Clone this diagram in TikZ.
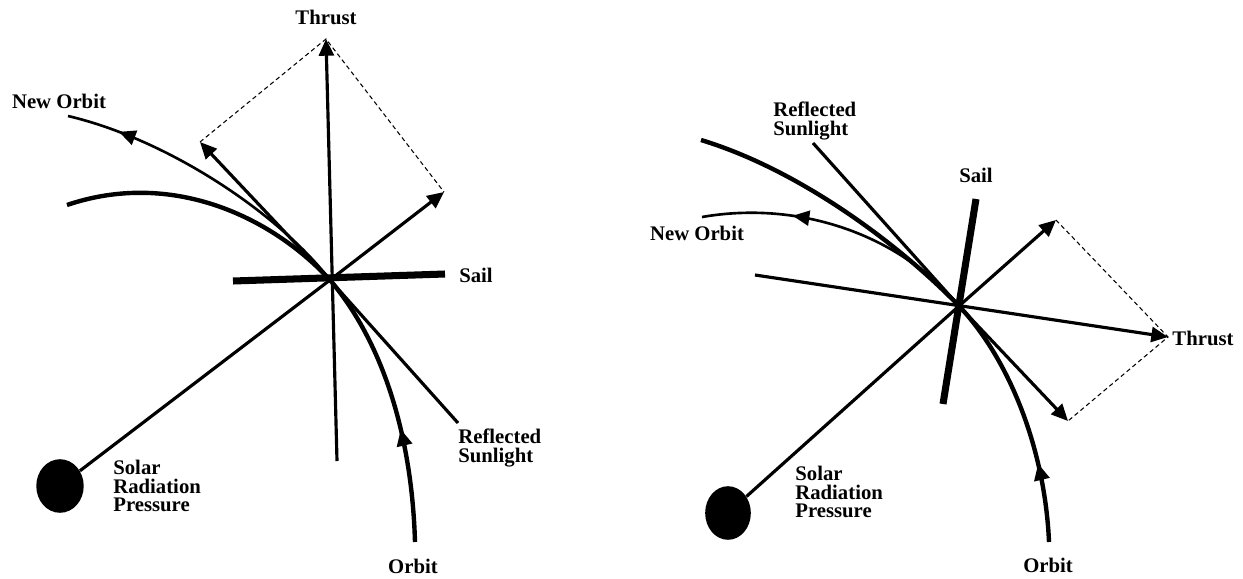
\documentclass[tikz,border=0pt]{standalone}
\usepackage{fontspec}
\setmainfont{Liberation Serif}
\usetikzlibrary{arrows.meta, shapes.geometric, decorations.markings}

\tikzset{
    ray/.style = {line width=1.8pt},
    vec/.style = {line width=1.8pt, -{Triangle[length=9.5pt, width=8.5pt]}},
    sailbar/.style = {line width=4pt},
    guide/.style = {line width=0.6pt, dash pattern=on 2.5pt off 1.8pt},
    orbitpath/.style = {line width=2.5pt},
    neworbit/.style = {line width=1.5pt},
    onarrow/.style = {postaction={decorate}, decoration={markings,
        mark=at position #1 with {\arrow{Triangle[length=9.5pt, width=8.5pt]}}}},
    sun/.style = {ellipse, fill=black, minimum width=27pt, minimum height=30.5pt, inner sep=0pt},
    lbl/.style = {font=\fontsize{11.8}{10.5}\selectfont\bfseries, align=left, inner sep=0pt},
}

\begin{document}
\begin{tikzpicture}[x=0.02cm, y=-0.02cm]
    \useasboundingbox (0,0) rectangle (1243,578);

    \coordinate (c1) at (330,280);
    \coordinate (t1) at (326,39);
    \coordinate (b1) at (337,461);
    \coordinate (ul1) at (200,142);
    \coordinate (ur1) at (444,192);
    \coordinate (sl1) at (233,281);
    \coordinate (sr1) at (445,274);
    \coordinate (rf1) at (458,423);
    \coordinate (ob1) at (415,542);
    \coordinate (oe1) at (67,205);
    \coordinate (ne1) at (68,116);
    \node[sun] (sun1) at (60,486) {};

    \node[lbl] (thrust1) at (326,17) {Thrust};
    \node[lbl] (newlbl1) at (59,101) {New Orbit};
    \node[lbl] (sail1) at (476,275) {Sail};
    \node[lbl, anchor=west] (refl1) at (458,448) {Reflected\\Sunlight};
    \node[lbl, anchor=west] (srp1) at (113,486) {Solar\\Radiation\\Pressure};
    \node[lbl] (orbit1) at (413,566) {Orbit};

    \draw[guide] (ul1) -- (t1) -- (ur1);
    \draw[vec] (b1) -- (t1);
    \draw[vec] (c1) -- (ul1);
    \draw[vec] (c1) -- (ur1);
    \draw[ray] (sun1) -- (c1);
    \draw[ray] (c1) -- (rf1);
    \draw[sailbar] (sl1) -- (sr1);
    \draw[orbitpath, onarrow=0.2] (ob1) .. controls (412,440) and (385,345) .. (c1)
        .. controls (270,215) and (170,170) .. (oe1);
    \draw[neworbit, onarrow=0.83] (c1) .. controls (280,215) and (170,140) .. (ne1);

    \coordinate (c2) at (959,306);
    \coordinate (t2) at (1168,337);
    \coordinate (b2) at (755,275);
    \coordinate (ur2) at (1056,220);
    \coordinate (lr2) at (1068,421);
    \coordinate (st2) at (976,199);
    \coordinate (sb2) at (943,404);
    \coordinate (rf2) at (813,143);
    \coordinate (ob2) at (1049,542);
    \coordinate (oe2) at (701,140);
    \coordinate (ne2) at (702,217);
    \node[sun, minimum width=26pt] (sun2) at (728,513) {};

    \node[lbl, anchor=west] (refl2) at (773,121) {Reflected\\Sunlight};
    \node[lbl] (newlbl2) at (697,233) {New Orbit};
    \node[lbl] (sail2) at (976,175) {Sail};
    \node[lbl] (thrust2) at (1203,338) {Thrust};
    \node[lbl, anchor=west] (srp2) at (795,492) {Solar\\Radiation\\Pressure};
    \node[lbl] (orbit2) at (1048,565) {Orbit};

    \draw[guide] (ur2) -- (t2) -- (lr2);
    \draw[vec] (b2) -- (t2);
    \draw[vec] (c2) -- (ur2);
    \draw[vec] (c2) -- (lr2);
    \draw[ray] (sun2) -- (c2);
    \draw[ray] (c2) -- (rf2);
    \draw[sailbar] (st2) -- (sb2);
    \draw[orbitpath, onarrow=0.14] (ob2) .. controls (1045,450) and (1010,360) .. (c2)
        .. controls (900,245) and (800,170) .. (oe2);
    \draw[neworbit, onarrow=0.68] (c2) .. controls (900,235) and (800,200) .. (ne2);
\end{tikzpicture}
\end{document}
